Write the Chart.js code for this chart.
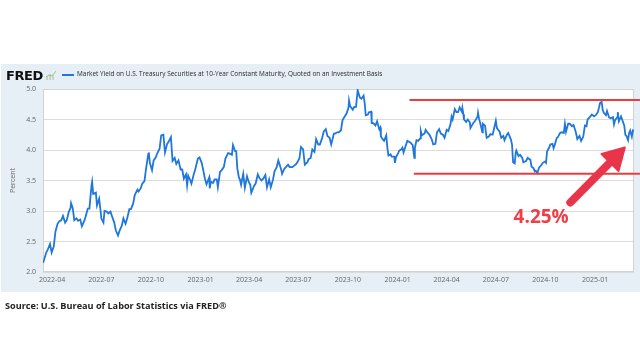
<!DOCTYPE html>
<html><head><meta charset="utf-8">
<script src="https://cdn.jsdelivr.net/npm/chart.js@4/dist/chart.umd.min.js"></script>
<style>
html,body{margin:0;padding:0;background:#fff;}
#wrap{position:relative;width:640px;height:356px;overflow:hidden;background:#fff;}
#panel{position:absolute;left:1px;top:64px;width:639px;height:228px;background:#e6eef6;}
canvas{position:absolute;left:0;top:0;}
.t{position:absolute;white-space:nowrap;line-height:1;}
#fred{left:6px;top:69px;font-family:'DejaVu Sans',sans-serif;font-weight:bold;font-size:13px;color:#111;letter-spacing:-0.4px;}
#legline{position:absolute;left:62px;top:74px;width:12px;height:2px;background:#2176d9;}
#legtext{left:77px;top:71px;font-family:'Open Sans',sans-serif;font-size:7px;color:#2a2a2a;}
#source{left:5px;top:301px;font-family:'Open Sans',sans-serif;font-weight:bold;font-size:10px;color:#222;}
#icon{position:absolute;left:46px;top:70px;}
</style></head>
<body>
<div id="wrap">
  <div id="panel"></div>
  <canvas id="c" width="640" height="356"></canvas>
  <div class="t" id="fred">FRED</div>
  <svg id="icon" width="11" height="10" viewBox="0 0 11 10"><rect x="0" y="6" width="2" height="4" fill="#c9d3c4"/><rect x="3" y="4" width="2" height="6" fill="#c9d3c4"/><rect x="6" y="5" width="2" height="5" fill="#c9d3c4"/><polyline points="0,7 3,5 6,6 10,1" fill="none" stroke="#9fc28a" stroke-width="1"/></svg>
  <div id="legline"></div>
  <div class="t" id="legtext"></div>
  <div class="t" id="source"></div>
</div>
<script>
const seriesLabel = 'Market Yield on U.S. Treasury Securities at 10-Year Constant Maturity, Quoted on an Investment Basis';
const sourceText = 'Source: U.S. Bureau of Labor Statistics via FRED\u00AE';
const yAxisTitle = 'Percent';

const dates = [
'2022-03-15','2022-03-17','2022-03-21','2022-03-24','2022-03-28','2022-03-31','2022-04-04','2022-04-07','2022-04-11','2022-04-14',
'2022-04-18','2022-04-21','2022-04-25','2022-04-28','2022-05-02','2022-05-05','2022-05-06','2022-05-09','2022-05-12','2022-05-16',
'2022-05-19','2022-05-23','2022-05-26','2022-05-31','2022-06-02','2022-06-06','2022-06-09','2022-06-13','2022-06-14','2022-06-16',
'2022-06-21','2022-06-23','2022-06-27','2022-06-30','2022-07-01','2022-07-05','2022-07-07','2022-07-11','2022-07-14','2022-07-18',
'2022-07-21','2022-07-25','2022-07-28','2022-08-01','2022-08-04','2022-08-08','2022-08-11','2022-08-15','2022-08-18','2022-08-22',
'2022-08-25','2022-08-29','2022-09-01','2022-09-06','2022-09-08','2022-09-12','2022-09-15','2022-09-19','2022-09-22','2022-09-26',
'2022-09-27','2022-09-29','2022-10-03','2022-10-06','2022-10-10','2022-10-13','2022-10-17','2022-10-20','2022-10-24','2022-10-27',
'2022-10-31','2022-11-03','2022-11-07','2022-11-10','2022-11-14','2022-11-17','2022-11-21','2022-11-25','2022-11-28','2022-12-01',
'2022-12-05','2022-12-07','2022-12-09','2022-12-13','2022-12-15','2022-12-19','2022-12-22','2022-12-27','2022-12-30',
'2023-01-03','2023-01-05','2023-01-09','2023-01-12','2023-01-17','2023-01-18','2023-01-20','2023-01-24','2023-01-27','2023-01-31',
'2023-02-02','2023-02-06','2023-02-09','2023-02-13','2023-02-16','2023-02-21','2023-02-24','2023-02-28','2023-03-02','2023-03-06',
'2023-03-08','2023-03-10','2023-03-13','2023-03-15','2023-03-17','2023-03-21','2023-03-24','2023-03-28','2023-03-31','2023-04-03',
'2023-04-05','2023-04-10','2023-04-13','2023-04-17','2023-04-20','2023-04-24','2023-04-27','2023-05-01','2023-05-04','2023-05-08',
'2023-05-11','2023-05-15','2023-05-18','2023-05-22','2023-05-25','2023-05-30','2023-06-01','2023-06-05','2023-06-08','2023-06-12',
'2023-06-15','2023-06-20','2023-06-23','2023-06-27','2023-06-30','2023-07-03','2023-07-06','2023-07-10','2023-07-13','2023-07-18',
'2023-07-20','2023-07-24','2023-07-27','2023-07-31','2023-08-03','2023-08-07','2023-08-10','2023-08-14','2023-08-17','2023-08-21',
'2023-08-24','2023-08-28','2023-08-31','2023-09-05','2023-09-07','2023-09-11','2023-09-14','2023-09-18','2023-09-21','2023-09-25',
'2023-09-28','2023-10-02','2023-10-03','2023-10-05','2023-10-10','2023-10-12','2023-10-16','2023-10-19','2023-10-23','2023-10-26',
'2023-10-30','2023-11-01','2023-11-03','2023-11-07','2023-11-09','2023-11-13','2023-11-14','2023-11-17','2023-11-21','2023-11-24',
'2023-11-28','2023-11-30','2023-12-01','2023-12-05','2023-12-07','2023-12-11','2023-12-13','2023-12-15','2023-12-19','2023-12-21',
'2023-12-26','2023-12-27','2023-12-29',
'2024-01-02','2024-01-04','2024-01-08','2024-01-10','2024-01-12','2024-01-16','2024-01-19','2024-01-23','2024-01-25','2024-01-29',
'2024-02-01','2024-02-02','2024-02-05','2024-02-08','2024-02-12','2024-02-13','2024-02-15','2024-02-20','2024-02-22','2024-02-26',
'2024-02-29','2024-03-04','2024-03-07','2024-03-11','2024-03-14','2024-03-18','2024-03-21','2024-03-25','2024-03-28','2024-04-01',
'2024-04-04','2024-04-08','2024-04-10','2024-04-12','2024-04-16','2024-04-19','2024-04-22','2024-04-25','2024-04-29','2024-04-30',
'2024-05-02','2024-05-03','2024-05-07','2024-05-10','2024-05-14','2024-05-15','2024-05-20','2024-05-23','2024-05-28','2024-05-29',
'2024-05-31','2024-06-03','2024-06-06','2024-06-07','2024-06-11','2024-06-14','2024-06-18','2024-06-21','2024-06-25','2024-06-28',
'2024-07-01','2024-07-03','2024-07-08','2024-07-11','2024-07-15','2024-07-17','2024-07-22','2024-07-24','2024-07-29','2024-07-31',
'2024-08-02','2024-08-05','2024-08-07','2024-08-08','2024-08-12','2024-08-15','2024-08-19','2024-08-21','2024-08-26','2024-08-29',
'2024-09-03','2024-09-05','2024-09-09','2024-09-11','2024-09-13','2024-09-16','2024-09-19','2024-09-23','2024-09-26','2024-09-30',
'2024-10-02','2024-10-04','2024-10-08','2024-10-10','2024-10-14','2024-10-16','2024-10-18','2024-10-22','2024-10-24','2024-10-28',
'2024-10-31','2024-11-04','2024-11-06','2024-11-08','2024-11-12','2024-11-15','2024-11-19','2024-11-22','2024-11-26','2024-11-29',
'2024-12-03','2024-12-06','2024-12-10','2024-12-13','2024-12-16','2024-12-18','2024-12-20','2024-12-26','2024-12-30',
'2025-01-02','2025-01-06','2025-01-08','2025-01-10','2025-01-13','2025-01-15','2025-01-17','2025-01-21','2025-01-23','2025-01-27',
'2025-01-30','2025-02-03','2025-02-05','2025-02-07','2025-02-11','2025-02-12','2025-02-14','2025-02-18','2025-02-20','2025-02-24',
'2025-02-26','2025-02-28','2025-03-03','2025-03-05','2025-03-07','2025-03-10','2025-03-12','2025-03-14'
];
const yields = [
2.15,2.20,2.32,2.37,2.46,2.32,2.42,2.66,2.79,2.83,
2.85,2.92,2.81,2.85,2.99,3.05,3.13,3.05,2.85,2.88,
2.84,2.86,2.75,2.85,2.91,3.04,3.04,3.43,3.48,3.28,
3.30,3.09,3.20,2.98,2.88,2.81,3.00,2.99,2.96,2.99,
2.91,2.81,2.68,2.60,2.68,2.76,2.88,2.79,2.88,3.03,
3.03,3.12,3.26,3.35,3.32,3.37,3.45,3.49,3.70,3.93,
3.96,3.79,3.67,3.83,3.88,3.95,4.02,4.24,4.25,3.96,
4.10,4.14,4.21,3.82,3.87,3.77,3.83,3.68,3.68,3.53,
3.60,3.42,3.58,3.50,3.45,3.59,3.68,3.86,3.88,
3.79,3.71,3.53,3.44,3.55,3.37,3.48,3.46,3.52,3.52,
3.39,3.64,3.67,3.72,3.86,3.95,3.94,3.92,4.08,3.98,
3.98,3.70,3.55,3.51,3.43,3.61,3.38,3.57,3.48,3.43,
3.30,3.41,3.45,3.60,3.54,3.50,3.53,3.59,3.39,3.52,
3.39,3.51,3.65,3.72,3.83,3.69,3.61,3.69,3.72,3.76,
3.72,3.72,3.74,3.77,3.81,3.86,4.05,4.01,3.76,3.80,
3.85,3.87,4.01,3.97,4.18,4.09,4.09,4.19,4.30,4.34,
4.23,4.20,4.09,4.27,4.27,4.29,4.29,4.32,4.49,4.55,
4.59,4.69,4.81,4.72,4.66,4.70,4.71,4.98,4.86,4.84,
4.89,4.77,4.57,4.58,4.62,4.63,4.44,4.44,4.40,4.47,
4.34,4.37,4.22,4.17,4.15,4.24,4.04,3.91,3.93,3.89,
3.89,3.79,3.88,
3.95,3.99,4.01,4.04,3.96,4.07,4.15,4.13,4.12,4.08,
3.87,4.03,4.16,4.15,4.19,4.31,4.24,4.27,4.33,4.28,
4.25,4.18,4.09,4.10,4.29,4.34,4.27,4.25,4.20,4.33,
4.31,4.42,4.55,4.50,4.67,4.62,4.62,4.70,4.63,4.69,
4.58,4.50,4.46,4.50,4.45,4.36,4.44,4.47,4.54,4.61,
4.51,4.41,4.29,4.43,4.40,4.20,4.22,4.26,4.25,4.36,
4.48,4.36,4.30,4.20,4.23,4.16,4.26,4.28,4.17,4.09,
3.80,3.78,3.96,3.99,3.90,3.92,3.87,3.80,3.82,3.87,
3.84,3.73,3.70,3.65,3.66,3.62,3.71,3.75,3.79,3.81,
3.79,3.98,4.04,4.09,4.10,4.03,4.08,4.20,4.21,4.28,
4.29,4.28,4.43,4.30,4.43,4.43,4.39,4.41,4.30,4.18,
4.23,4.15,4.22,4.40,4.39,4.50,4.52,4.58,4.55,
4.57,4.62,4.69,4.77,4.79,4.66,4.61,4.57,4.64,4.53,
4.52,4.54,4.42,4.49,4.54,4.62,4.47,4.55,4.50,4.40,
4.25,4.23,4.16,4.28,4.32,4.22,4.32,4.31
];

const xMin = '2022-03-15', xMax = '2025-03-14';
const xTickDates = ['2022-04-01','2022-07-01','2022-10-01','2023-01-01','2023-04-01','2023-07-01','2023-10-01','2024-01-01','2024-04-01','2024-07-01','2024-10-01','2025-01-01'];
const xTickLabels = ['2022-04','2022-07','2022-10','2023-01','2023-04','2023-07','2023-10','2024-01','2024-04','2024-07','2024-10','2025-01'];
const yTicks = [2.0,2.5,3.0,3.5,4.0,4.5,5.0];

const rangeHigh = 4.82, rangeLow = 3.61;
const rangeHighStart = '2024-01-23', rangeLowStart = '2024-01-31', rangeEnd = '2025-03-25';
const calloutText = '4.25%';
const arrowFrom = ['2024-11-16', 3.14];
const arrowTo = ['2025-02-25', 4.04];
const calloutAt = ['2024-09-23', 2.89];

function day(s){ const p = s.split('-'); return Date.UTC(+p[0], +p[1]-1, +p[2]) / 86400000; }

document.getElementById('legtext').textContent = seriesLabel;
document.getElementById('source').textContent = sourceText;
function fitWidth(id, w){
  const el = document.getElementById(id);
  const cur = el.getBoundingClientRect().width;
  const fs = parseFloat(getComputedStyle(el).fontSize);
  el.style.fontSize = (fs * w / cur) + 'px';
}
fitWidth('legtext', 306);
fitWidth('source', 222);

const blue = '#1f76db';
const red = '#ef3b3f';

const bgPlugin = {
  id: 'bg',
  beforeDraw(chart){
    const {ctx, chartArea: a} = chart;
    ctx.save();
    ctx.fillStyle = '#ffffff';
    ctx.fillRect(a.left, a.top, a.right - a.left, a.bottom - a.top);
    ctx.restore();
  },
  beforeDatasetsDraw(chart){
    const {ctx, chartArea: a} = chart;
    ctx.save();
    ctx.strokeStyle = '#d2d2d2';
    ctx.lineWidth = 1;
    ctx.strokeRect(Math.round(a.left) + 0.5, Math.round(a.top) + 0.5, Math.round(a.right - a.left) - 1, Math.round(a.bottom - a.top) - 1);
    ctx.restore();
  }
};

const arrowPlugin = {
  id: 'arrow',
  afterDraw(chart){
    const {ctx} = chart;
    const xs = chart.scales.x, ys = chart.scales.y;
    const x0 = xs.getPixelForValue(day(arrowFrom[0])), y0 = ys.getPixelForValue(arrowFrom[1]);
    const x1 = xs.getPixelForValue(day(arrowTo[0])), y1 = ys.getPixelForValue(arrowTo[1]);
    const ang = Math.atan2(y1 - y0, x1 - x0);
    const headLen = 21, headHalf = 12;
    const bx = x1 - headLen * Math.cos(ang), by = y1 - headLen * Math.sin(ang);
    ctx.save();
    ctx.strokeStyle = '#e8354a';
    ctx.fillStyle = '#e8354a';
    ctx.lineWidth = 8;
    ctx.lineCap = 'round';
    ctx.beginPath();
    ctx.moveTo(x0, y0);
    ctx.lineTo(bx + 2 * Math.cos(ang), by + 2 * Math.sin(ang));
    ctx.stroke();
    ctx.beginPath();
    ctx.moveTo(x1, y1);
    ctx.lineTo(bx + headHalf * Math.sin(ang), by - headHalf * Math.cos(ang));
    ctx.lineTo(bx - headHalf * Math.sin(ang), by + headHalf * Math.cos(ang));
    ctx.closePath();
    ctx.lineJoin = 'round';
    ctx.lineWidth = 2;
    ctx.fill();
    ctx.stroke();
    const tx = xs.getPixelForValue(day(calloutAt[0])), ty = ys.getPixelForValue(calloutAt[1]);
    ctx.fillStyle = '#f03e48';
    ctx.font = 'bold 19px "Open Sans", sans-serif';
    ctx.textAlign = 'center';
    ctx.textBaseline = 'middle';
    ctx.fillText(calloutText, tx, ty);
    ctx.restore();
  }
};

const tickFont = {family: '"Open Sans", sans-serif', size: 7};

new Chart(document.getElementById('c'), {
  type: 'line',
  data: {
    datasets: [
      {label: seriesLabel, data: dates.map((d, i) => ({x: day(d), y: yields[i]})), borderColor: blue, borderWidth: 1.8, pointRadius: 0, tension: 0, fill: false, order: 1},
      {label: 'high', data: [{x: day(rangeHighStart), y: rangeHigh}, {x: day(rangeEnd), y: rangeHigh}], borderColor: red, borderWidth: 2, pointRadius: 0, clip: false, order: 0},
      {label: 'low', data: [{x: day(rangeLowStart), y: rangeLow}, {x: day(rangeEnd), y: rangeLow}], borderColor: red, borderWidth: 2, pointRadius: 0, clip: false, order: 0}
    ]
  },
  options: {
    responsive: false,
    animation: false,
    devicePixelRatio: 1,
    layout: {padding: {left: 0, top: 89, right: 6, bottom: 64}},
    plugins: {legend: {display: false}, tooltip: {enabled: false}},
    scales: {
      x: {
        type: 'linear', min: day(xMin), max: day(xMax),
        afterBuildTicks: s => { s.ticks = xTickDates.map(d => ({value: day(d)})); },
        afterFit: s => { s.height = 20; },
        ticks: {autoSkip: false, maxRotation: 0, padding: 4, color: '#666', font: tickFont,
          callback: v => { const i = xTickDates.findIndex(d => day(d) === v); return i >= 0 ? xTickLabels[i] : ''; }},
        grid: {display: false, drawTicks: false},
        border: {display: false}
      },
      y: {
        min: 2, max: 5,
        afterBuildTicks: s => { s.ticks = yTicks.map(v => ({value: v})); },
        afterFit: s => { s.width = 43; },
        ticks: {padding: 7, color: '#666', font: tickFont, callback: v => Number(v).toFixed(1)},
        grid: {color: '#dcdcdc', lineWidth: 1, drawTicks: false},
        border: {display: false},
        title: {display: true, text: yAxisTitle, color: '#666', font: tickFont, padding: {top: 9, bottom: 0}}
      }
    }
  },
  plugins: [bgPlugin, arrowPlugin]
});
</script>
</body></html>
